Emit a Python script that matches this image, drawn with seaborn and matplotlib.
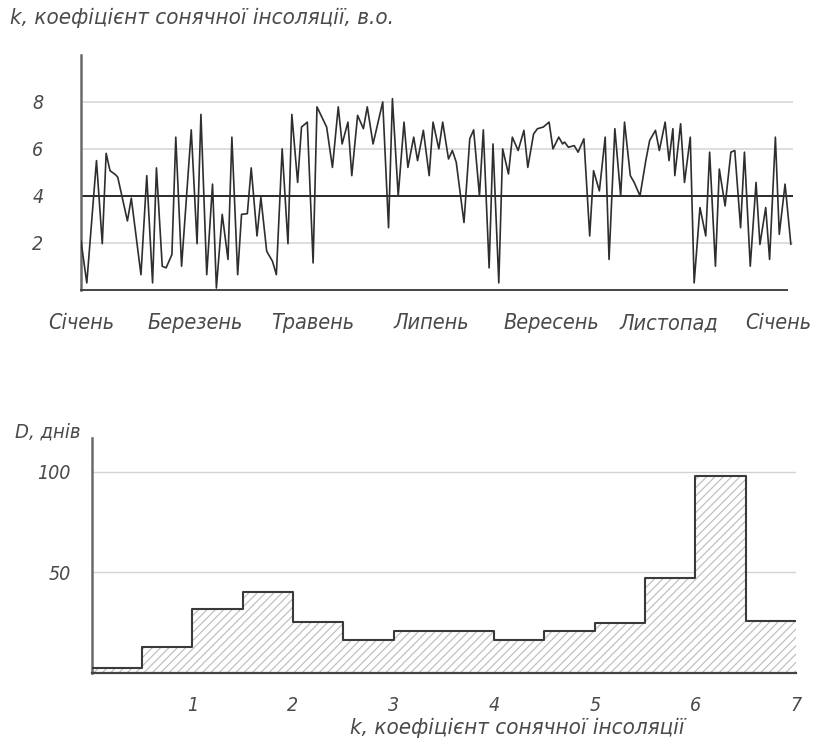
import numpy as np
import pandas as pd
import seaborn as sns
import matplotlib.pyplot as plt
import matplotlib.transforms as mtransforms

# ==========================================
# DATA
# ==========================================
# day of year and solar insolation coefficient k
days = [0, 3, 8, 11, 13, 15, 18, 19, 24, 26, 31, 34, 37, 39, 42, 44, 47, 49, 52, 57,
        60, 62, 65, 68, 70, 73, 76, 78, 81, 83, 86, 88, 91, 93, 96, 99, 101, 104, 107, 109,
        112, 114, 117, 120, 122, 127, 130, 133, 135, 138, 140, 143, 146, 148, 151, 156, 159, 161, 164, 167,
        169, 172, 174, 177, 180, 182, 185, 187, 190, 192, 194, 198, 201, 203, 206, 208, 211, 213, 216, 218,
        221, 223, 226, 229, 231, 234, 236, 239, 242, 244, 247, 249, 250, 252, 255, 257, 260, 263, 265, 268,
        271, 273, 276, 279, 281, 284, 286, 289, 292, 294, 297, 299, 302, 304, 306, 307, 310, 312, 315, 317,
        320, 323, 325, 328, 330, 333, 336, 338, 341, 343, 346, 349, 351, 354, 356, 359, 361, 364, 367]
k_values = [2.07, 0.29, 5.5, 1.96, 5.81, 5.07, 4.89, 4.79, 2.93, 3.9, 0.64, 4.86, 0.29, 5.19, 1.0, 0.93, 1.5, 6.5, 1.0, 6.81,
            1.96, 7.47, 0.64, 4.5, 0.07, 3.21, 1.29, 6.5, 0.64, 3.21, 3.24, 5.19, 2.29, 3.93, 1.64, 1.21, 0.64, 6.0, 1.96, 7.47,
            4.57, 6.93, 7.14, 1.14, 7.79, 6.93, 5.21, 7.79, 6.21, 7.14, 4.86, 7.43, 6.86, 7.79, 6.21, 8.0, 2.64, 8.14, 4.0, 7.14,
            5.21, 6.5, 5.5, 6.79, 4.86, 7.14, 6.0, 7.14, 5.57, 5.93, 5.43, 2.86, 6.43, 6.81, 4.0, 6.81, 0.93, 6.21, 0.29, 6.0,
            4.93, 6.5, 5.93, 6.79, 5.21, 6.64, 6.86, 6.93, 7.14, 6.0, 6.5, 6.21, 6.29, 6.07, 6.14, 5.86, 6.43, 2.29, 5.07, 4.21,
            6.5, 1.29, 6.86, 4.0, 7.14, 4.86, 4.57, 4.0, 5.5, 6.36, 6.79, 5.93, 7.14, 5.5, 6.86, 4.86, 7.07, 4.57, 6.5, 0.29,
            3.5, 2.29, 5.86, 1.0, 5.14, 3.57, 5.86, 5.93, 2.64, 5.86, 1.0, 4.57, 1.93, 3.5, 1.29, 6.5, 2.36, 4.5, 1.93]

month_ticks = [0, 59, 120, 181, 243, 304, 365]
month_labels = ["Січень", "Березень", "Травень", "Липень", "Вересень", "Листопад", "Січень"]

# number of days D for each k interval
k_edges = [0, 0.5, 1, 1.5, 2, 2.5, 3, 3.5, 4, 4.5, 5, 5.5, 6, 6.5, 7]
day_counts = [2.5, 13, 31.5, 40, 25, 16.5, 21, 21, 16.5, 21, 24.5, 47, 98, 25.5]

TEXT = "#4a4a4a"

sns.set_theme(style="white")
plt.rcParams["font.family"] = ["DejaVu Sans"]
plt.rcParams["font.style"] = "italic"
plt.rcParams["font.stretch"] = "condensed"
plt.rcParams["hatch.linewidth"] = 0.8

fig = plt.figure(figsize=(8.13, 7.44), dpi=100)
W, H = 813, 744

# ==========================================
# 1. DAILY INSOLATION COEFFICIENT
# ==========================================
ax1 = fig.add_axes([81 / W, (H - 289.7) / H, (792.8 - 81) / W, 234.7 / H])
ax1.yaxis.grid(True, color="#dedede", linewidth=1.4)
ax1.set_axisbelow(True)
ax1.axhline(4, color="#2b2b2b", linewidth=1.4, zorder=1)
sns.lineplot(x=days, y=k_values, color="#2e2e2e", linewidth=1.2, ax=ax1, zorder=3)
ax1.set_xlim(0, 368)
ax1.set_ylim(0, 10)
ax1.set_yticks([2, 4, 6, 8])
ax1.set_xticks(month_ticks, month_labels)
ax1.tick_params(axis="y", length=0, pad=27, labelsize=14, labelcolor=TEXT)
ax1.tick_params(axis="x", direction="inout", length=18, width=1.2, color="#555555",
                pad=8, labelsize=15.5, labelcolor=TEXT)
ax1.xaxis.get_major_ticks()[0].tick1line.set_visible(False)
# last label sits against the right edge of the picture, nudge it left
last = ax1.get_xticklabels()[-1]
last.set_transform(last.get_transform() +
                   mtransforms.ScaledTranslation(-0.09, 0, fig.dpi_scale_trans))
for side in ["top", "right"]:
    ax1.spines[side].set_visible(False)
ax1.spines["left"].set_color("#6a6a6a")
ax1.spines["left"].set_linewidth(1.8)
ax1.spines["bottom"].set_color("#444444")
ax1.spines["bottom"].set_linewidth(1.4)
ax1.spines["bottom"].set_bounds(0, 365)
ax1.set_xlabel("")
ax1.set_ylabel("")
fig.text(10 / W, 1 - 18 / H, "k, коефіцієнт сонячної інсоляції, в.о.",
         fontsize=16, color=TEXT, va="center", ha="left")

# ==========================================
# 2. HISTOGRAM OF DAYS PER k INTERVAL
# ==========================================
ax2 = fig.add_axes([91.7 / W, (H - 672.7) / H, (796 - 91.7) / W, 234.7 / H])
ax2.yaxis.grid(True, color="#d4d4d4", linewidth=1.0)
ax2.set_axisbelow(True)
centers = [(a + b) / 2 for a, b in zip(k_edges[:-1], k_edges[1:])]
sns.histplot(x=centers, weights=day_counts, bins=k_edges, element="step", fill=True,
             facecolor="white", edgecolor="#bbbbbb", linewidth=0, hatch="////",
             ax=ax2, zorder=2)
sns.histplot(x=centers, weights=day_counts, bins=k_edges, element="step", fill=False,
             color="#3a3a3a", linewidth=1.5, ax=ax2, zorder=3)
ax2.set_xlim(0, 7)
ax2.set_ylim(0, 116.8)
ax2.set_yticks([50, 100])
ax2.set_xticks([1, 2, 3, 4, 5, 6, 7])
ax2.tick_params(axis="y", length=0, pad=15, labelsize=14, labelcolor=TEXT)
ax2.tick_params(axis="x", direction="inout", length=21, width=1.2, color="#444444",
                pad=6, labelsize=14, labelcolor=TEXT)
for side in ["top", "right"]:
    ax2.spines[side].set_visible(False)
ax2.spines["left"].set_color("#6a6a6a")
ax2.spines["left"].set_linewidth(1.8)
ax2.spines["bottom"].set_color("#444444")
ax2.spines["bottom"].set_linewidth(1.6)
ax2.set_xlabel("")
ax2.set_ylabel("")
fig.text(15 / W, 1 - 432 / H, "D, днів", fontsize=14.5, color=TEXT, va="center", ha="left")
fig.text(517 / W, 1 - 728 / H, "k, коефіцієнт сонячної інсоляції", fontsize=16,
         color=TEXT, va="center", ha="center")

fig.savefig("out.png", dpi=100)
